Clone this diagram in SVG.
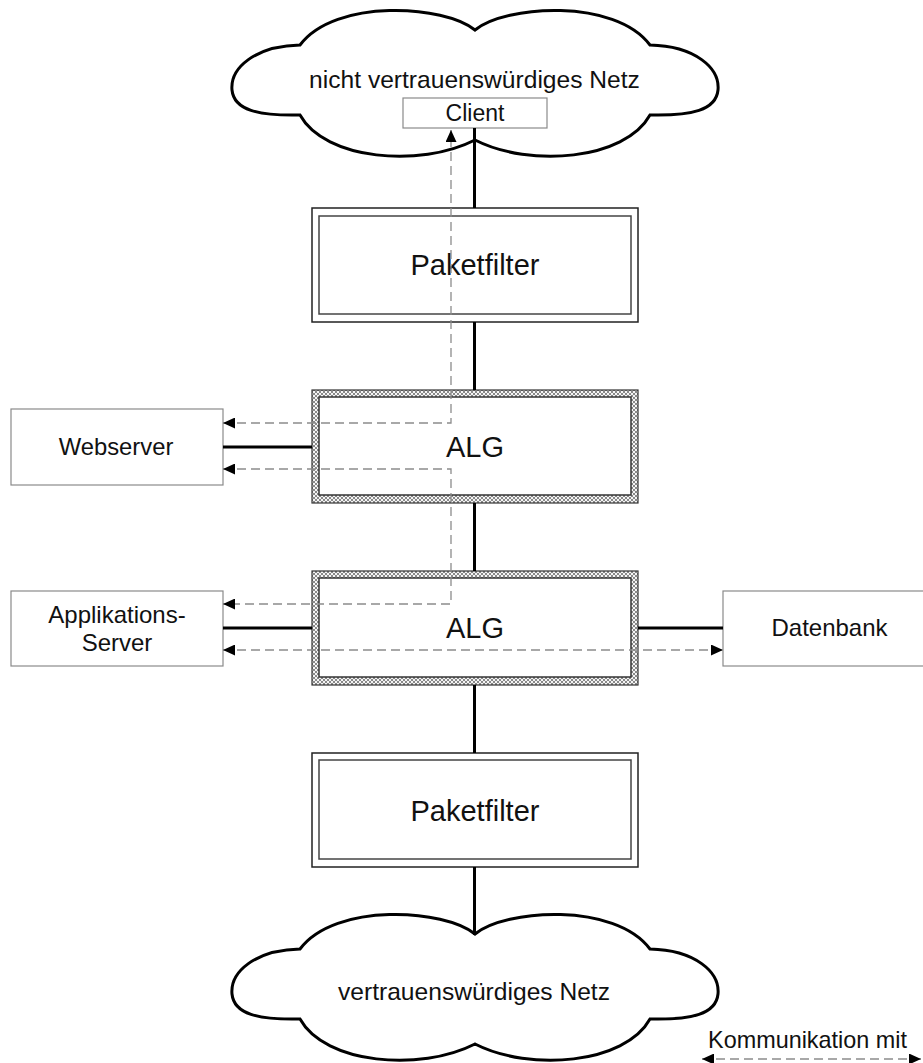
<svg xmlns="http://www.w3.org/2000/svg" width="923" height="1063" viewBox="0 0 923 1063">
<style>
text{font-family:"Liberation Sans",Arial,sans-serif;fill:#111;text-anchor:middle}
.cloud{fill:#fff;stroke:#000;stroke-width:3}
.box{fill:#fff;stroke:#8a8a8a;stroke-width:1.2}
.pf-out{fill:#fff;stroke:#222;stroke-width:1.5}
.pf-in{fill:#fff;stroke:#444;stroke-width:1.5}
.alg-out{fill:url(#hatch);stroke:#333;stroke-width:1.2}
.alg-in{fill:#fff;stroke:#333;stroke-width:1.5}
.solid{fill:none;stroke:#000;stroke-width:3}
.dash{fill:none;stroke:#8c8c8c;stroke-width:1.3;stroke-dasharray:9 5}
.arr{marker-start:url(#ah);marker-end:url(#ah)}
.big{font-size:29px}
.mid{font-size:24px}
</style>
<defs>
<pattern id="hatch" width="4" height="4" patternUnits="userSpaceOnUse">
<rect width="4" height="4" fill="#f4f4f4"/>
<path d="M0,0 L4,4 M4,0 L0,4" stroke="#6e6e6e" stroke-width="0.8"/>
</pattern>
<marker id="ah" viewBox="0 0 12 11" refX="12" refY="5.5" markerWidth="12" markerHeight="11" markerUnits="userSpaceOnUse" orient="auto-start-reverse">
<path d="M0,0 L12,5.5 L0,11 Z" fill="#000"/>
</marker>
<path id="cloudshape" d="M475,30 C445,5 335,-2 300,45 C255,46 230,68 232,90 C234,110 258,116 300,115 C325,160 420,168 475,140 C530,168 625,160 650,115 C692,116 716,110 718,90 C720,68 695,46 650,45 C615,-2 505,5 475,30 Z"/>
</defs>

<g id="cloud-untrusted">
<use href="#cloudshape" class="cloud"/>
<text x="474.5" y="88" style="font-size:24.6px">nicht vertrauenswürdiges Netz</text>
</g>
<g id="client">
<rect class="box" x="403" y="98" width="144" height="30"/>
<text x="475" y="121" style="font-size:23px">Client</text>
</g>
<g id="paketfilter-top">
<rect class="pf-out" x="312" y="208" width="326" height="114"/>
<rect class="pf-in" x="319" y="216" width="312" height="98"/>
<text class="big" x="475" y="275">Paketfilter</text>
</g>
<g id="alg-top">
<rect class="alg-out" x="312" y="390" width="326" height="113"/>
<rect class="alg-in" x="319" y="397" width="312" height="98"/>
<text class="big" x="475" y="457">ALG</text>
</g>
<g id="webserver">
<rect class="box" x="11" y="409" width="212" height="76"/>
<text class="mid" x="116" y="455" style="font-size:23.8px">Webserver</text>
</g>
<g id="alg-bottom">
<rect class="alg-out" x="312" y="571" width="326" height="114"/>
<rect class="alg-in" x="319" y="578" width="312" height="99"/>
<text class="big" x="475" y="638">ALG</text>
</g>
<g id="applikationsserver">
<rect class="box" x="11" y="591" width="212" height="75"/>
<text class="mid" x="117" y="623">Applikations-</text>
<text class="mid" x="117" y="651">Server</text>
</g>
<g id="datenbank">
<rect class="box" x="723" y="591" width="212" height="75"/>
<text class="mid" x="829.5" y="636">Datenbank</text>
</g>
<g id="paketfilter-bottom">
<rect class="pf-out" x="312" y="753" width="326" height="114"/>
<rect class="pf-in" x="319" y="760" width="312" height="99"/>
<text class="big" x="475" y="821">Paketfilter</text>
</g>
<g id="cloud-trusted">
<use href="#cloudshape" class="cloud" transform="translate(0,904)"/>
<text x="474" y="1000" style="font-size:24.6px">vertrauenswürdiges Netz</text>
</g>
<g id="legend">
<text x="807.5" y="1048" style="font-size:23.4px">Kommunikation mit</text>
</g>

<g id="connectors">
<path class="solid" d="M474.5,128 V208 M474.5,322 V390 M474.5,503 V571 M474.5,685 V753 M474.5,867 V935"/>
<path class="solid" d="M223,447 H312 M223,628 H312 M638,628 H723"/>
<path class="dash arr" d="M223,423 H451 V130"/>
<path class="dash arr" d="M223,469 H451 V604 H223"/>
<path class="dash arr" d="M223,650 H723"/>
<path class="dash arr" d="M702,1059 H921"/>
</g>
</svg>
